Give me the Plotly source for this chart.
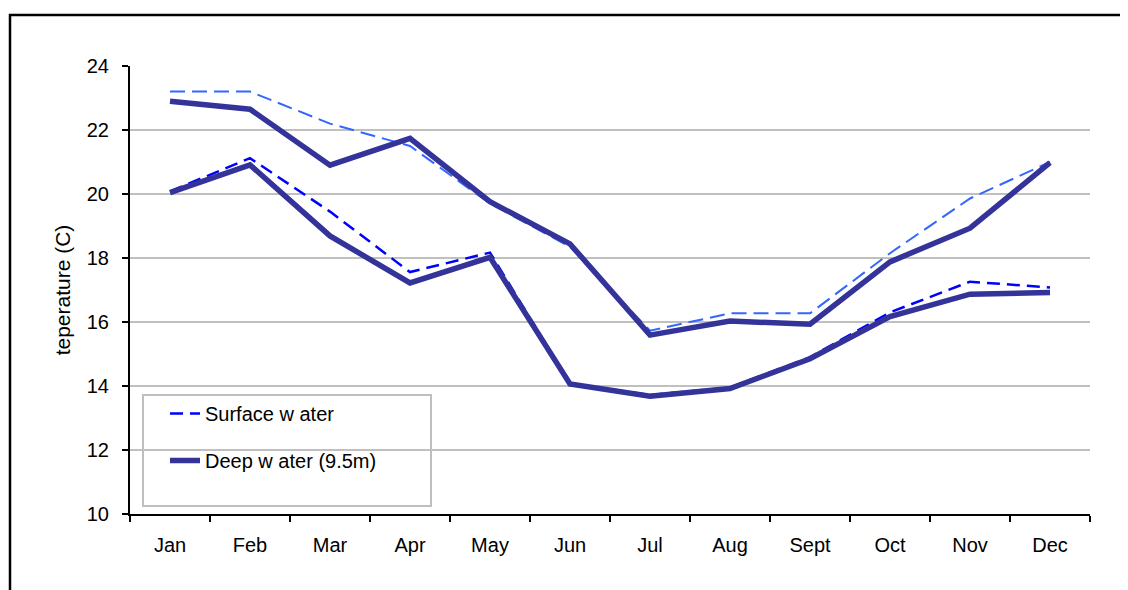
import plotly.graph_objects as go

months = ["Jan", "Feb", "Mar", "Apr", "May", "Jun", "Jul", "Aug", "Sept", "Oct", "Nov", "Dec"]

surface_a = [23.2, 23.2, 22.2, 21.5, 19.7, 18.35, 15.73, 16.27, 16.27, 18.15, 19.86, 21.0]
deep_a = [22.9, 22.65, 20.9, 21.74, 19.76, 18.44, 15.59, 16.03, 15.93, 17.88, 18.93, 20.98]
surface_b = [20.08, 21.12, 19.45, 17.56, 18.17, 14.08, 13.72, 13.95, 14.9, 16.3, 17.26, 17.08]
deep_b = [20.04, 20.91, 18.69, 17.22, 18.02, 14.06, 13.68, 13.92, 14.85, 16.17, 16.87, 16.92]

y_ticks = [10, 12, 14, 16, 18, 20, 22, 24]

DARK = "#333399"
LIGHT = "#3366FF"
BLUE = "#0000FF"
FONT = "Liberation Sans, Arial, sans-serif"

# page body has an 8px margin: the figure's origin sits at (8, 8) in the window
OFF = 8
W, H = 1128 - OFF, 590 - OFF
L, T = 130 - OFF, 66 - OFF
PW, PH = 960, 448

fig = go.Figure()

fig.add_trace(go.Scatter(x=months, y=surface_a, mode="lines", name="Surface water (2)",
                         line=dict(color=LIGHT, width=2, dash="15px,7px"), showlegend=False))
fig.add_trace(go.Scatter(x=months, y=surface_b, mode="lines", name="Surface w ater",
                         line=dict(color=BLUE, width=2.5, dash="13px,7px"),
                         legendgroup="s", showlegend=True))
fig.add_trace(go.Scatter(x=months, y=deep_a, mode="lines", name="Deep water (2)",
                         line=dict(color=DARK, width=5.5), showlegend=False))
fig.add_trace(go.Scatter(x=months, y=deep_b, mode="lines", name="Deep w ater (9.5m)",
                         line=dict(color=DARK, width=5.5),
                         legendgroup="d", showlegend=True))


def px_x(x):
    return (x - 130) / PW


def px_y(y):
    return (514 - y) / PH


fig.update_layout(
    width=W, height=H,
    margin=dict(l=L, r=W - L - PW, t=T, b=H - T - PH),
    paper_bgcolor="white", plot_bgcolor="white",
    font=dict(family=FONT, size=20, color="black"),
    showlegend=True,
    legend=dict(x=px_x(165), y=px_y(394), xanchor="left", yanchor="top",
                bgcolor="rgba(0,0,0,0)", borderwidth=0,
                font=dict(size=20, family=FONT), tracegroupgap=18,
                itemwidth=30),
    xaxis=dict(
        type="category", categoryorder="array", categoryarray=months,
        showline=True, linecolor="black", linewidth=2,
        ticks="outside", ticklen=6, tickwidth=2, tickcolor="black",
        tickson="boundaries", showgrid=False, zeroline=False,
        tickfont=dict(size=20), ticklabelstandoff=12,
        range=[-0.5, 11.5],
    ),
    yaxis=dict(
        range=[10, 24], tickvals=y_ticks,
        showline=True, linecolor="black", linewidth=2,
        ticks="outside", ticklen=6, tickwidth=2, tickcolor="black",
        showgrid=True, gridcolor="#C0C0C0", gridwidth=2, zeroline=False,
        tickfont=dict(size=20), ticklabelstandoff=9,
        title=dict(text="teperature (C)", font=dict(size=21), standoff=10),
    ),
    shapes=[
        dict(type="rect", xref="paper", yref="paper",
             x0=px_x(143), x1=px_x(431), y0=px_y(506), y1=px_y(395),
             line=dict(color="#BFBFBF", width=2), fillcolor="rgba(0,0,0,0)", layer="below"),
        dict(type="rect", xref="paper", yref="paper",
             x0=px_x(10), x1=px_x(1150), y0=px_y(610), y1=px_y(15),
             line=dict(color="black", width=2.5), fillcolor="rgba(0,0,0,0)"),
    ],
)

fig.write_html("out.html")
